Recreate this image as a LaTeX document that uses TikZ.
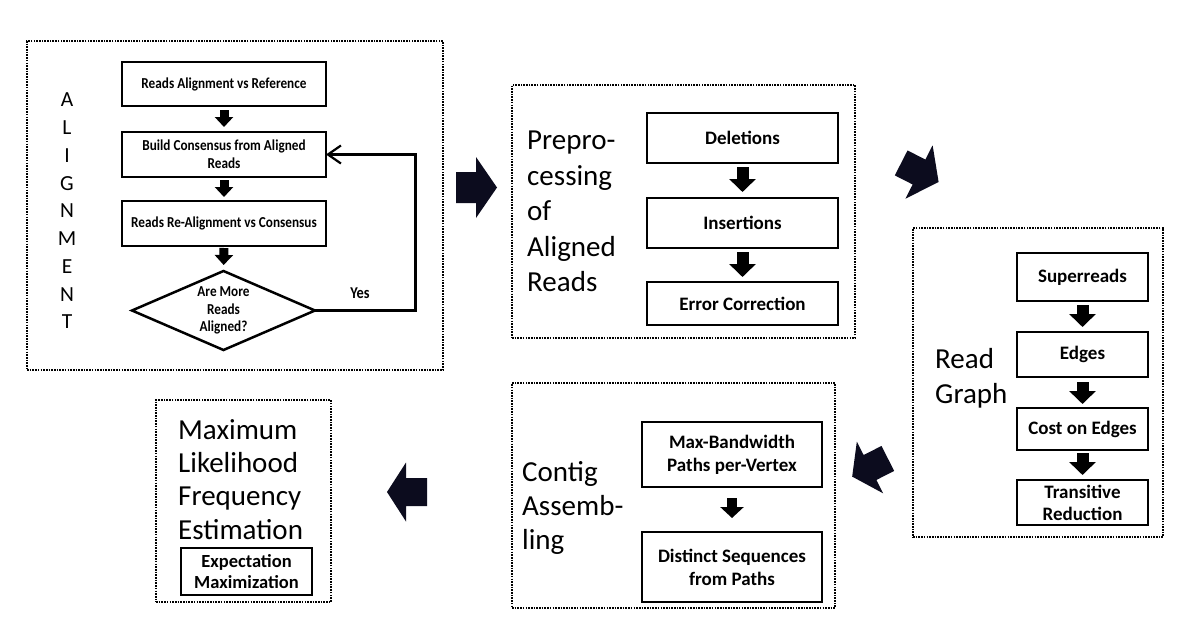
\documentclass[tikz,border=0pt]{standalone}
\usepackage{fontspec}
\setmainfont{Carlito}
\newfontfamily\condfont[FakeStretch=0.87]{Carlito}
\usetikzlibrary{arrows.meta,shapes.geometric}
\definecolor{arrowc}{RGB}{12,12,30}
\begin{document}
\begin{tikzpicture}[x=1pt,y=-1pt,
  outerbox/.style={draw, line width=1.6pt, dash pattern=on 1.6pt off 1.1pt, inner sep=0pt, outer sep=0pt},
  stepbox/.style={draw, line width=2.5pt, inner sep=0pt, outer sep=0pt, align=center, font=\bfseries\fontsize{19}{23}\selectfont},
  smallbox/.style={stepbox, font=\condfont\bfseries\fontsize{15.2}{18}\selectfont},
  biglabel/.style={inner sep=0pt, anchor=north west, align=left},
  bigarrow/.style={fill=arrowc},
  flowA/.style={draw=black, line width=9pt, -{Triangle[width=18pt,length=10pt]}},
  flowB/.style={draw=black, line width=12pt, -{Triangle[width=26pt,length=13pt]}},
  flowC/.style={draw=black, line width=10pt, -{Triangle[width=23pt,length=11pt]}},
]
\useasboundingbox (0,0) rectangle (1200,643);
\fill[white] (0,0) rectangle (1200,643);

% ---------- Alignment ----------
\node[outerbox, minimum width=416pt, minimum height=329pt] (alignbox) at (235,205.5) {};
\node[inner sep=0pt, align=center, font=\fontsize{21.5}{27.75}\selectfont] (alignlbl) at (67,211) {A\\L\\I\\G\\N\\M\\E\\N\\T};
\node[smallbox, minimum width=204pt, minimum height=44pt] (a1) at (224,84) {Reads Alignment vs Reference};
\node[smallbox, minimum width=204pt, minimum height=45pt] (a2) at (224,154.5) {Build Consensus from Aligned\\Reads};
\node[smallbox, minimum width=204pt, minimum height=45pt] (a3) at (224,223.5) {Reads Re-Alignment vs Consensus};
\node[diamond, draw, line width=2.5pt, aspect=2.3, inner sep=0pt, outer sep=0pt, minimum width=183pt, minimum height=79pt, align=center, font=\condfont\bfseries\fontsize{15.2}{17.5}\selectfont] (dia) at (223.5,310.5) {Are More\\Reads\\Aligned?};
\node[font=\condfont\bfseries\fontsize{16.5}{18}\selectfont, inner sep=0pt] (yes) at (360,293) {Yes};
\draw[flowA, shorten <=4pt, shorten >=5pt] (a1.south) -- (a2.north);
\draw[flowA, shorten <=3pt, shorten >=4pt] (a2.south) -- (a3.north);
\draw[flowA, shorten <=2pt, shorten >=6pt] (a3.south) -- (dia.north);
\coordinate (fb) at (415,310.5);
\draw[line width=3pt, line join=miter, -{Straight Barb[length=13pt,width=18pt,line width=2.2pt]}] (dia.east) -- (fb) |- (a2.east);

% ---------- Preprocessing ----------
\node[outerbox, minimum width=343pt, minimum height=253pt] (prepbox) at (683.5,211.5) {};
\node[biglabel, font=\fontsize{29}{35.5}\selectfont] (preplbl) at (527,131) {Prepro-\\cessing\\of\\Aligned\\Reads};
\node[stepbox, minimum width=191pt, minimum height=50pt] (p1) at (742.5,138) {Deletions};
\node[stepbox, minimum width=191pt, minimum height=50pt] (p2) at (742.5,223) {Insertions};
\node[stepbox, minimum width=191pt, minimum height=43pt] (p3) at (742.5,303.5) {Error Correction};
\draw[flowB, shorten <=4pt, shorten >=6pt] (p1.south) -- (p2.north);
\draw[flowB, shorten <=4pt, shorten >=5pt] (p2.south) -- (p3.north);

% ---------- Read Graph ----------
\node[outerbox, minimum width=250pt, minimum height=309pt] (rgbox) at (1038,382.5) {};
\node[biglabel, font=\fontsize{29}{35}\selectfont] (rglbl) at (935,348) {Read\\Graph};
\node[stepbox, minimum width=131pt, minimum height=48pt] (r1) at (1082.5,277) {Superreads};
\node[stepbox, minimum width=131pt, minimum height=45pt] (r2) at (1082.5,354.5) {Edges};
\node[stepbox, minimum width=131pt, minimum height=42pt] (r3) at (1082.5,429) {Cost on Edges};
\node[stepbox, minimum width=131pt, minimum height=45pt, font=\bfseries\fontsize{19}{22}\selectfont] (r4) at (1082.5,502.5) {Transitive\\Reduction};
\draw[flowB, shorten <=4pt, shorten >=5pt] (r1.south) -- (r2.north);
\draw[flowB, shorten <=5pt, shorten >=4pt] (r2.south) -- (r3.north);
\draw[flowB, shorten <=3pt, shorten >=5pt] (r3.south) -- (r4.north);

% ---------- Contig Assembling ----------
\node[outerbox, minimum width=323pt, minimum height=225pt] (contigbox) at (673.5,495.5) {};
\node[biglabel, font=\fontsize{29}{34}\selectfont] (contiglbl) at (522,461) {Contig\\Assemb-\\ling};
\node[stepbox, minimum width=180pt, minimum height=65pt] (c1) at (732,454.5) {Max-Bandwidth\\Paths per-Vertex};
\node[stepbox, minimum width=180pt, minimum height=70pt] (c2) at (732,567) {Distinct Sequences\\from Paths};
\draw[flowC, shorten <=11pt, shorten >=14pt] (c1.south) -- (c2.north);

% ---------- Maximum Likelihood ----------
\node[outerbox, minimum width=175pt, minimum height=202pt] (mlbox) at (243.5,501) {};
\node[biglabel, font=\fontsize{29}{33.3}\selectfont] (mllbl) at (178,419) {Maximum\\Likelihood\\Frequency\\Estimation};
\node[stepbox, minimum width=131pt, minimum height=47pt, font=\bfseries\fontsize{18.5}{21}\selectfont] (em) at (246.5,571.5) {Expectation\\Maximization};

% ---------- Big arrows between stages ----------
\coordinate (big1) at (476,187.5);
\coordinate (big2) at (919,172);
\coordinate (big3) at (870,467.5);
\coordinate (big4) at (406,492);
\fill[bigarrow, shift={(big1)}] (-20,-15.5) -- (0,-15.5) -- (0,-30.5) -- (21,0) -- (0,30.5) -- (0,15.5) -- (-20,15.5) -- cycle;
\fill[bigarrow, shift={(big2)}, rotate=-27] (-20,-14) -- (0,-14) -- (0,-30) -- (22,0) -- (0,30) -- (0,14) -- (-20,14) -- cycle;
\fill[bigarrow, shift={(big3)}, rotate=207] (-20,-14) -- (0,-14) -- (0,-29) -- (20,0) -- (0,29) -- (0,14) -- (-20,14) -- cycle;
\fill[bigarrow, shift={(big4)}, rotate=180] (-21,-14) -- (0,-14) -- (0,-29.5) -- (19,0) -- (0,29.5) -- (0,14) -- (-21,14) -- cycle;
\end{tikzpicture}
\end{document}
